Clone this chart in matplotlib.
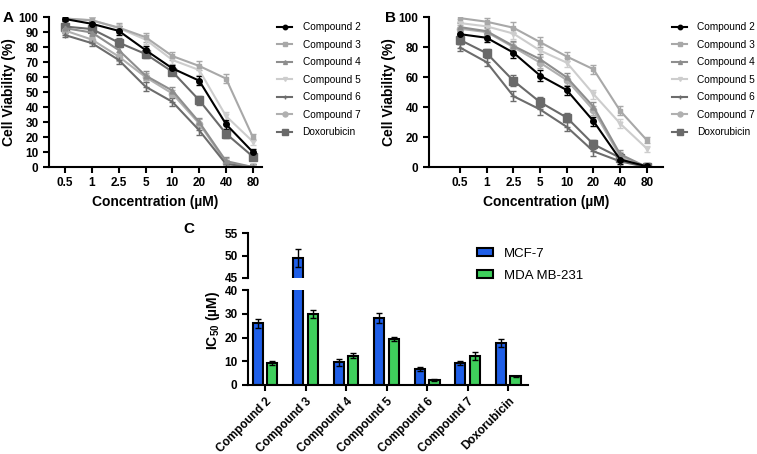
import matplotlib.pyplot as plt
from matplotlib.patches import Patch
from matplotlib.lines import Line2D

plt.rcParams['font.family'] = ['Liberation Sans', 'DejaVu Sans']
plt.rcParams['mathtext.fontset'] = 'custom'
plt.rcParams['mathtext.rm'] = 'Liberation Sans'
plt.rcParams['mathtext.bf'] = 'Liberation Sans:bold'

conc = ["0.5", "1", "2.5", "5", "10", "20", "40", "80"]
names = ["Compound 2", "Compound 3", "Compound 4", "Compound 5",
         "Compound 6", "Compound 7", "Doxorubicin"]

# panel A (MCF-7) viability
a_c2 = [98.7, 95.5, 90.8, 78, 65.8, 57.6, 28.6, 10]
a_c3 = [99, 97.8, 93, 86.6, 74, 67.4, 59, 20]
a_c4 = [92.6, 89.7, 78, 61, 51, 30, 4, 0]
a_c5 = [99, 98, 92.6, 85, 71.4, 64.7, 34, 17]
a_c6 = [88, 82.6, 71.4, 53.6, 43.5, 24.5, 2, 0]
a_c7 = [91, 85, 73.7, 60, 49, 29, 3, 0]
a_dox = [93.7, 92, 83, 75.4, 63.6, 44.6, 22.3, 7]
a_err = [1.5, 2, 3, 3, 2.5, 3, 3, 2]

# panel B (MDA MB-231) viability
b_c2 = [88.6, 86.2, 76.3, 61, 51.3, 30.6, 5, 0.5]
b_c3 = [99.3, 96.9, 92.9, 83.3, 73.7, 65.2, 37.5, 17.9]
b_c4 = [93.3, 90.6, 80.8, 71.9, 59.8, 40.2, 8.5, 0]
b_c5 = [96, 93.8, 89, 77.7, 69.6, 48.7, 29, 12.3]
b_c6 = [79.7, 69.9, 47.3, 38.4, 26.8, 10.5, 3.8, 0]
b_c7 = [92.2, 90, 80, 69.6, 58, 38, 7, 0]
b_dox = [84.8, 75.9, 57.6, 43.3, 33, 15.2, 6.2, 0]
b_err = [2.5, 2.5, 3.5, 3.5, 3, 3, 3, 2]

# panel C IC50
mcf7 = [26, 49.5, 9.5, 28.3, 6.7, 9.2, 17.7]
mcf7_err = [2, 2, 1.3, 2.2, 0.8, 0.8, 1.7]
mda = [9.3, 30, 12.4, 19.3, 2.1, 12.3, 3.6]
mda_err = [1, 1.7, 1, 0.8, 0.3, 1.8, 0.4]

colors = ["black", "#a8a8a8", "#8e8e8e", "#cdcdcd", "#6c6c6c", "#b0b0b0", "#6a6a6a"]
markers = ["o", "s", "^", "v", "+", "o", "s"]
msizes = [4, 3.5, 3.5, 3.5, 4, 4.5, 6]

fig = plt.figure(figsize=(7.57, 4.54), dpi=100)


def line_panel(ax, series, errs, yticks, leg_x):
    x = range(len(conc))
    for k in reversed(range(len(series))):
        ax.errorbar(x, series[k], yerr=errs, color=colors[k], marker=markers[k],
                    markersize=msizes[k], lw=1.5, capsize=2, elinewidth=1)
    ax.set_ylim(0, 100)
    ax.set_yticks(yticks)
    ax.set_xticks(list(x))
    ax.set_xticklabels(conc)
    for s in ["top", "right"]:
        ax.spines[s].set_visible(False)
    for s in ["left", "bottom"]:
        ax.spines[s].set_linewidth(1.5)
    ax.tick_params(width=1.5, length=4, labelsize=8.5)
    for lab in ax.get_xticklabels() + ax.get_yticklabels():
        lab.set_fontweight("bold")
    ax.set_xlabel("Concentration (µM)", fontsize=10, fontweight="bold", labelpad=4)
    ax.set_ylabel("Cell Viability (%)", fontsize=10, fontweight="bold", labelpad=2)
    handles = [Line2D([], [], color=colors[k], marker=markers[k],
                      markersize=msizes[k] * 0.8, lw=1.5, label=names[k])
               for k in range(len(series))]
    ax.legend(handles=handles, loc="upper left", bbox_to_anchor=(leg_x, 1.027),
              frameon=False, fontsize=7.3, handlelength=1.5, handletextpad=1.0,
              labelspacing=0.74)


axA = fig.add_axes([0.0647, 0.632, 0.281, 0.3304])
line_panel(axA, [a_c2, a_c3, a_c4, a_c5, a_c6, a_c7, a_dox], a_err,
           range(0, 101, 10), 1.03)
axA.set_xlim(-0.6, 7.33)

axB = fig.add_axes([0.5667, 0.632, 0.309, 0.3304])
line_panel(axB, [b_c2, b_c3, b_c4, b_c5, b_c6, b_c7, b_dox], b_err,
           range(0, 101, 20), 1.0)
axB.set_xlim(-1.16, 7.6)

# panel C with broken axis
axLo = fig.add_axes([0.3276, 0.152, 0.370, 0.209])
axHi = fig.add_axes([0.3276, 0.3877, 0.370, 0.099])
blue = "#1f5fe8"
green = "#3fcf5c"
w = 0.25
off = 0.18
xs = range(len(names))
for ax in (axLo, axHi):
    ax.bar([i - off for i in xs], mcf7, w, color=blue, edgecolor="black", lw=1.5,
           yerr=mcf7_err, error_kw=dict(capsize=2.5, elinewidth=1, capthick=1))
    ax.bar([i + off for i in xs], mda, w, color=green, edgecolor="black", lw=1.5,
           yerr=mda_err, error_kw=dict(capsize=2.5, elinewidth=1, capthick=1))
    ax.set_xlim(-0.42, 6.49)
    for s in ["top", "right"]:
        ax.spines[s].set_visible(False)
    ax.spines["left"].set_linewidth(1.5)
    ax.tick_params(width=1.5, length=4, labelsize=8.5)

axLo.set_ylim(0, 40)
axLo.set_yticks([0, 10, 20, 30, 40])
axLo.spines["bottom"].set_linewidth(1.5)
axLo.set_xticks(list(xs))
axLo.set_xticklabels(names, rotation=45, ha="right", rotation_mode="anchor",
                     fontsize=8.5)
for lab in axLo.get_xticklabels() + axLo.get_yticklabels():
    lab.set_fontweight("bold")

axHi.set_ylim(45, 55)
axHi.set_yticks([45, 50, 55])
axHi.spines["bottom"].set_visible(False)
axHi.set_xticks([])
for lab in axHi.get_yticklabels():
    lab.set_fontweight("bold")

fig.text(0.281, 0.295, r"IC$_\mathbf{50}$ (µM)", rotation=90, ha="center",
         va="center", fontsize=10, fontweight="bold")

fig.legend(handles=[Patch(facecolor=blue, edgecolor="black", lw=1.5, label="MCF-7"),
                    Patch(facecolor=green, edgecolor="black", lw=1.5, label="MDA MB-231")],
           loc="upper left", bbox_to_anchor=(0.615, 0.48), frameon=False,
           fontsize=9.5, handlelength=1.2, handleheight=0.55, labelspacing=0.75)

fig.text(0.004, 0.975, "A", fontsize=11, fontweight="bold", va="top")
fig.text(0.508, 0.975, "B", fontsize=11, fontweight="bold", va="top")
fig.text(0.242, 0.51, "C", fontsize=11, fontweight="bold", va="top")

fig.savefig("out.png", dpi=100)
